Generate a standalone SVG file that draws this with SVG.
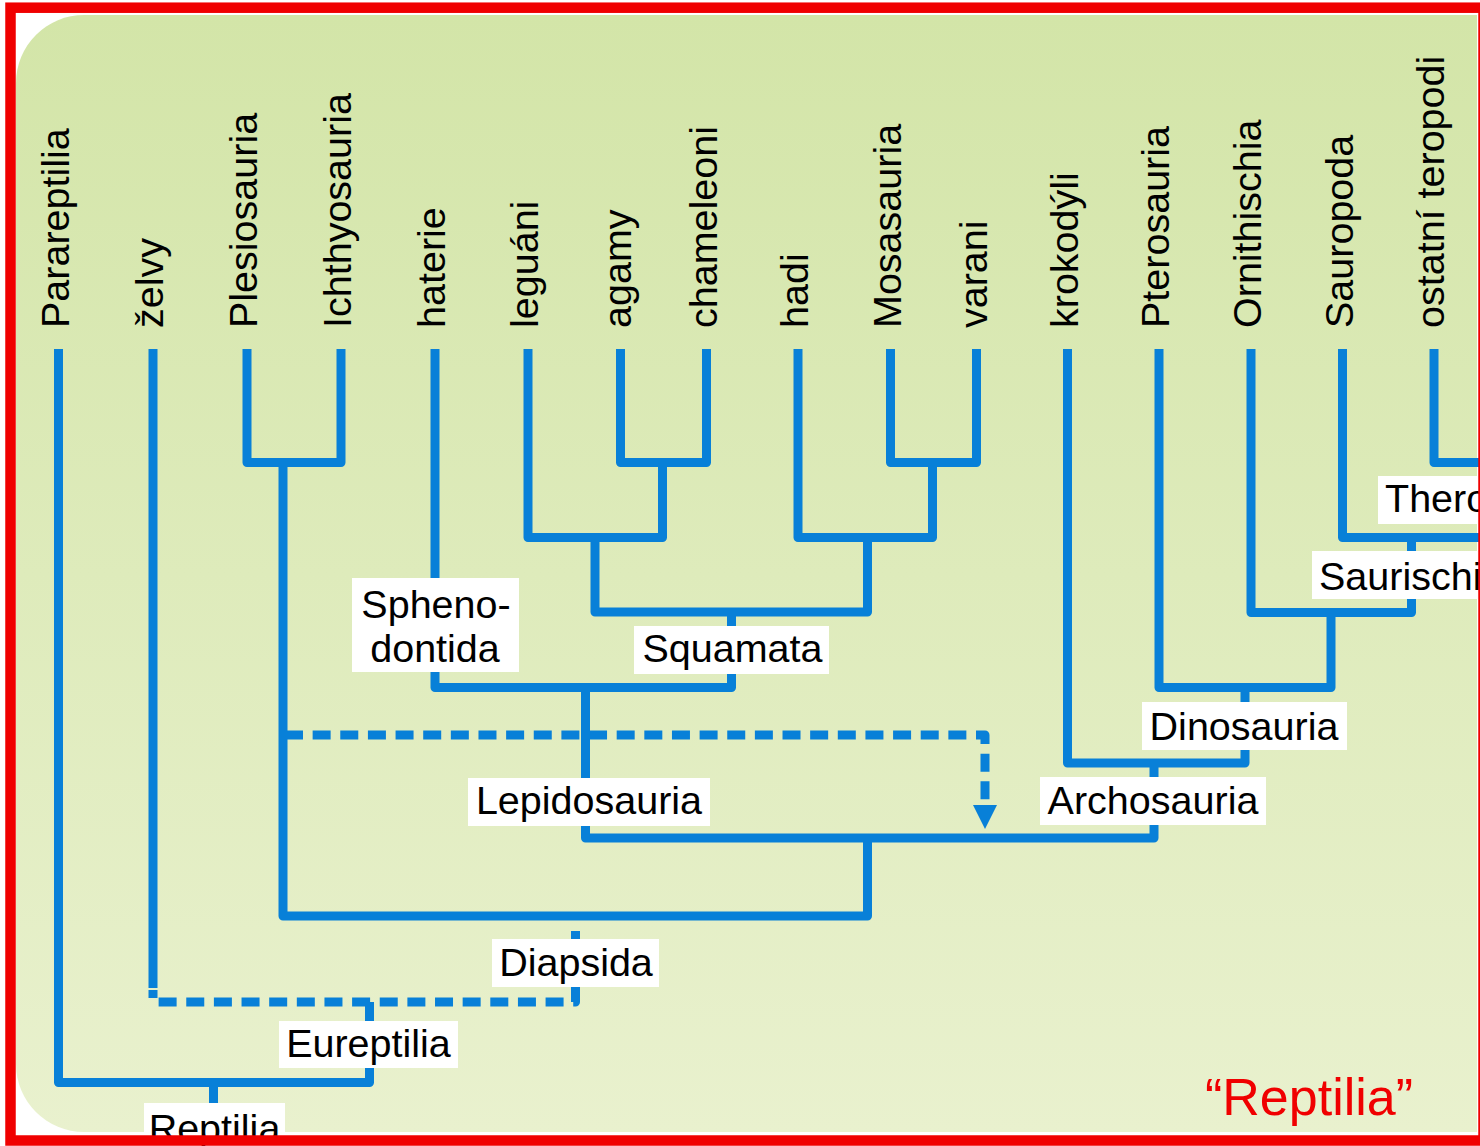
<svg xmlns="http://www.w3.org/2000/svg" width="1480" height="1146" viewBox="0 0 1480 1146">
<defs>
<linearGradient id="bg" x1="0" y1="0" x2="0" y2="1">
<stop offset="0" stop-color="#d3e5a8"/>
<stop offset="1" stop-color="#e9f1ce"/>
</linearGradient>
<marker id="arr" viewBox="0 0 24 24" refX="0" refY="12" markerWidth="24" markerHeight="24" markerUnits="userSpaceOnUse" orient="auto">
<path d="M0,0 L24,12 L0,24 Z" fill="#0880d8"/>
</marker>
<style>
.ln{fill:none;stroke:#0880d8;stroke-width:9;stroke-linejoin:round;stroke-linecap:butt}
.ds{stroke-dasharray:18 9.64}
.leaf{font-family:"Liberation Sans",Arial,sans-serif;font-size:39.5px;fill:#000}
.lbl{font-family:"Liberation Sans",Arial,sans-serif;font-size:39.5px;fill:#000;text-anchor:middle}
.lbs{font-family:"Liberation Sans",Arial,sans-serif;font-size:39.5px;fill:#000}
.box{fill:#ffffff}
</style>
</defs>
<rect x="0" y="0" width="1480" height="1146" fill="#ffffff"/>
<path d="M84,15 H1477 V1132 H84 A68,68 0 0 1 16,1064 V83 A68,68 0 0 1 84,15 Z" fill="url(#bg)"/>

<g id="connectors">
<path class="ln" d="M58.5,349 V1082.5 H369.5 V1002"/>
<path class="ln" d="M213.5,1082.5 V1146"/>
<path class="ln" d="M153,349 V988"/>
<path class="ln" d="M247,349 V462.5 H341 V349"/>
<path class="ln" d="M283,462.5 V916 H867.5 V838"/>
<path class="ln" d="M435,349 V687.5 H731.5 V612"/>
<path class="ln" d="M528,349 V537.5 H662.5 V462.5"/>
<path class="ln" d="M620.5,349 V462.5 H706.5 V349"/>
<path class="ln" d="M595,537.5 V612 H867.5 V537.5"/>
<path class="ln" d="M798,349 V537.5 H932.5 V462.5"/>
<path class="ln" d="M890.5,349 V462.5 H976.5 V349"/>
<path class="ln" d="M585.5,687.5 V838 H1154 V763"/>
<path class="ln" d="M1067.5,349 V763 H1245 V687.5"/>
<path class="ln" d="M1159,349 V687.5 H1331 V612.5"/>
<path class="ln" d="M1251,349 V612.5 H1411.5 V537.5"/>
<path class="ln" d="M1342.5,349 V537.5 H1490"/>
<path class="ln" d="M1434,349 V462.5 H1490"/>
<path class="ln ds" d="M575.5,931 V1002 H153 V990"/>
<path class="ln ds" d="M285,735 H985 V805" marker-end="url(#arr)"/>
</g>

<g id="leaf-parareptilia"><text class="leaf" transform="translate(68.5,328) rotate(-90)">Parareptilia</text></g>
<g id="leaf-zelvy"><text class="leaf" transform="translate(163,328) rotate(-90)">želvy</text></g>
<g id="leaf-plesiosauria"><text class="leaf" transform="translate(257,328) rotate(-90)">Plesiosauria</text></g>
<g id="leaf-ichthyosauria"><text class="leaf" transform="translate(351,328) rotate(-90)">Ichthyosauria</text></g>
<g id="leaf-haterie"><text class="leaf" transform="translate(445,328) rotate(-90)">haterie</text></g>
<g id="leaf-leguani"><text class="leaf" transform="translate(538,328) rotate(-90)">leguáni</text></g>
<g id="leaf-agamy"><text class="leaf" transform="translate(630.5,328) rotate(-90)">agamy</text></g>
<g id="leaf-chameleoni"><text class="leaf" transform="translate(716.5,328) rotate(-90)">chameleoni</text></g>
<g id="leaf-hadi"><text class="leaf" transform="translate(808,328) rotate(-90)">hadi</text></g>
<g id="leaf-mosasauria"><text class="leaf" transform="translate(900.5,328) rotate(-90)">Mosasauria</text></g>
<g id="leaf-varani"><text class="leaf" transform="translate(986.5,328) rotate(-90)">varani</text></g>
<g id="leaf-krokodyli"><text class="leaf" transform="translate(1077.5,328) rotate(-90)">krokodýli</text></g>
<g id="leaf-pterosauria"><text class="leaf" transform="translate(1169,328) rotate(-90)">Pterosauria</text></g>
<g id="leaf-ornithischia"><text class="leaf" transform="translate(1261,328) rotate(-90)">Ornithischia</text></g>
<g id="leaf-sauropoda"><text class="leaf" transform="translate(1352.5,328) rotate(-90)">Sauropoda</text></g>
<g id="leaf-teropodi"><text class="leaf" transform="translate(1444,328) rotate(-90)">ostatní teropodi</text></g>

<g id="node-sphenodontida"><rect class="box" x="352" y="578" width="167" height="94"/><text class="lbl" x="436" y="618">Spheno-</text><text class="lbl" x="435" y="662">dontida</text></g>
<g id="node-squamata"><rect class="box" x="634" y="626" width="195" height="48"/><text class="lbl" x="732.5" y="662">Squamata</text></g>
<g id="node-lepidosauria"><rect class="box" x="468" y="778" width="242" height="48"/><text class="lbl" x="589" y="814">Lepidosauria</text></g>
<g id="node-archosauria"><rect class="box" x="1040" y="777" width="226" height="48"/><text class="lbl" x="1153" y="814">Archosauria</text></g>
<g id="node-dinosauria"><rect class="box" x="1142" y="702" width="205" height="48"/><text class="lbl" x="1244" y="740">Dinosauria</text></g>
<g id="node-saurischia"><rect class="box" x="1312" y="551" width="200" height="48"/><text class="lbs" x="1319" y="590">Saurischia</text></g>
<g id="node-theropoda"><rect class="box" x="1378" y="476" width="180" height="48"/><text class="lbs" x="1385" y="512">Theropoda</text></g>
<g id="node-diapsida"><rect class="box" x="492" y="939" width="167" height="48"/><text class="lbl" x="576" y="976">Diapsida</text></g>
<g id="node-eureptilia"><rect class="box" x="279" y="1021" width="179" height="47"/><text class="lbl" x="368.5" y="1057">Eureptilia</text></g>
<g id="node-reptilia"><rect class="box" x="144" y="1103" width="141" height="45"/><text class="lbl" x="214.5" y="1142">Reptilia</text></g>

<g id="title"><text x="1205" y="1115" font-family="Liberation Sans, Arial, sans-serif" font-size="52" fill="#f00000">“Reptilia”</text></g>

<rect x="10.5" y="7.7" width="1473" height="1132.8" fill="none" stroke="#f00000" stroke-width="10.5"/>
</svg>
